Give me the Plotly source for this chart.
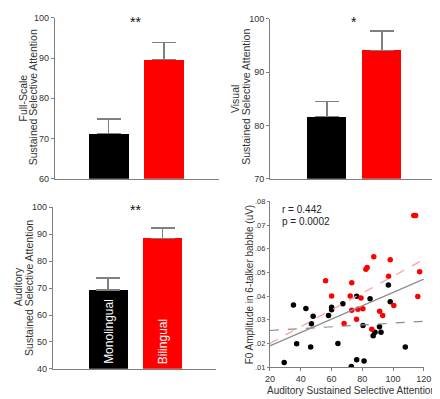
import plotly.graph_objects as go

# ---------------- data ----------------
groups = ["Monolingual", "Bilingual"]
bar_colors = ["#000000", "#ff0000"]

fullscale_mean = [71.2, 89.6]
fullscale_err = [3.7, 4.3]
visual_mean = [81.7, 94.1]
visual_err = [2.75, 3.6]
auditory_mean = [69.2, 88.5]
auditory_err = [4.5, 3.9]

mono_x = [29.3, 35.3, 37.4, 43.4, 46.5, 47.0, 48.1, 58.1, 60.1, 60.1, 64.2, 67.4, 72.9,
          76.4, 76.4, 80.5, 81.2, 85.1, 87.1, 88.3, 91.2, 92.2, 97.0, 98.2, 108.0]
mono_y = [0.0120, 0.0363, 0.0199, 0.0348, 0.0185, 0.0284, 0.0315, 0.0318, 0.0353, 0.0343,
          0.0200, 0.0368, 0.0103, 0.0400, 0.0131, 0.0276, 0.0126, 0.0389, 0.0233, 0.0248,
          0.0271, 0.0248, 0.0447, 0.0376, 0.0185]
bi_x = [56.2, 60.1, 68.2, 72.2, 73.2, 73.2, 76.3, 77.2, 79.2, 80.4, 82.4, 83.2, 86.2, 87.5,
        91.3, 93.3, 97.1, 98.2, 100.5, 113.5, 114.7, 116.1, 117.3]
bi_y = [0.0465, 0.0401, 0.0285, 0.0401, 0.0457, 0.0340, 0.0303, 0.0345, 0.0392, 0.0347,
        0.0514, 0.0521, 0.0260, 0.0566, 0.0336, 0.0318, 0.0484, 0.0554, 0.0361, 0.0741,
        0.0741, 0.0399, 0.0503]

fit_x = [20, 120]
fit_all_y = [0.0190, 0.0472]
fit_bi_y = [0.0200, 0.0555]
fit_mono_y = [0.0255, 0.0294]

scatter_xticks = [20, 40, 60, 80, 100, 120]
scatter_yticks = [0.01, 0.02, 0.03, 0.04, 0.05, 0.06, 0.07, 0.08]
scatter_yticktext = [".01", ".02", ".03", ".04", ".05", ".06", ".07", ".08"]

# ---------------- figure ----------------
W, H = 440, 399
FONT = "Liberation Sans, Arial, sans-serif"
AXC = "#7f7f7f"
TXC = "#333333"


def px(x):
    return x / W


def py(y):
    return 1 - y / H


fig = go.Figure()


def bar_panel(n, means, errs):
    fig.add_trace(go.Bar(
        x=[0, 1], y=means, width=0.72,
        marker=dict(color=bar_colors, line=dict(width=0)),
        error_y=dict(type="data", array=errs, arrayminus=[0, 0], symmetric=False,
                     color="#808080", thickness=1.5, width=12),
        xaxis="x" + n, yaxis="y" + n, showlegend=False, hoverinfo="skip"))


bar_panel("", fullscale_mean, fullscale_err)
bar_panel("2", visual_mean, visual_err)
bar_panel("3", auditory_mean, auditory_err)

# scatter
fig.add_trace(go.Scatter(x=mono_x, y=mono_y, mode="markers",
                         marker=dict(color="#000000", size=5.5),
                         xaxis="x4", yaxis="y4", showlegend=False))
fig.add_trace(go.Scatter(x=bi_x, y=bi_y, mode="markers",
                         marker=dict(color="#ff0000", size=5.5),
                         xaxis="x4", yaxis="y4", showlegend=False))
fig.add_trace(go.Scatter(x=fit_x, y=fit_mono_y, mode="lines",
                         line=dict(color="#8c8c8c", width=1.2, dash="dash"),
                         xaxis="x4", yaxis="y4", showlegend=False))
fig.add_trace(go.Scatter(x=fit_x, y=fit_bi_y, mode="lines",
                         line=dict(color="#ff9a9a", width=1.2, dash="dash"),
                         xaxis="x4", yaxis="y4", showlegend=False))
fig.add_trace(go.Scatter(x=fit_x, y=fit_all_y, mode="lines",
                         line=dict(color="#8c8c8c", width=1.2),
                         xaxis="x4", yaxis="y4", showlegend=False))

tickfont = dict(family=FONT, size=9, color=TXC)


def xbar(dom, rng):
    return dict(domain=dom, range=rng, showline=True, linecolor=AXC, linewidth=1,
                showticklabels=False, ticks="", showgrid=False, zeroline=False, fixedrange=True)


def ybar(dom, rng, tv, anchor):
    return dict(domain=dom, range=rng, tickvals=tv, showline=True, linecolor=AXC, linewidth=1,
                ticks="outside", ticklen=3, tickcolor=AXC, tickfont=tickfont,
                showgrid=False, zeroline=False, anchor=anchor, fixedrange=True)


layout = dict(
    width=W, height=H, margin=dict(l=0, r=0, t=0, b=0),
    paper_bgcolor="white", plot_bgcolor="white", bargap=0,
    xaxis=dict(xbar([px(43), px(212)], [-0.975, 1.99]), anchor="y"),
    yaxis=ybar([py(170), py(5)], [60, 100], [60, 70, 80, 90, 100], "x"),
    xaxis2=dict(xbar([px(265), px(435)], [-1.03, 1.97]), anchor="y2"),
    yaxis2=ybar([py(170), py(6)], [70, 100], [70, 80, 90, 100], "x2"),
    xaxis3=dict(xbar([px(41), px(209)], [-1.02, 1.98]), anchor="y3"),
    yaxis3=ybar([py(365), py(199.3)], [40, 100], [40, 50, 60, 70, 80, 90, 100], "x3"),
    xaxis4=dict(domain=[px(264.7), px(423.3)], range=[20, 120], tickvals=scatter_xticks,
                showline=True, linecolor=AXC, linewidth=1, ticks="outside", ticklen=3,
                tickcolor=AXC, tickfont=tickfont, showgrid=False, zeroline=False,
                anchor="y4", fixedrange=True),
    yaxis4=dict(domain=[py(363.3), py(193.3)], range=[0.01, 0.08], tickvals=scatter_yticks,
                ticktext=scatter_yticktext, showline=True, linecolor=AXC, linewidth=1,
                ticks="outside", ticklen=2, tickcolor=AXC,
                tickfont=dict(family=FONT, size=7.5, color=TXC),
                showgrid=False, zeroline=False, anchor="x4", fixedrange=True),
)
fig.update_layout(**layout)

ann = []


def txt(x, y, s, size=10.5, angle=0, color=TXC, xanchor="center"):
    ann.append(dict(x=px(x), y=py(y), xref="paper", yref="paper", text=s, showarrow=False,
                    textangle=angle, xanchor=xanchor, yanchor="middle",
                    font=dict(family=FONT, size=size, color=color)))


# axis titles
txt(10, 87, "Full-Scale", angle=-90)
txt(20, 86, "Sustained Selective Attention", angle=-90)
txt(229, 88, "Visual", angle=-90)
txt(240, 86, "Sustained Selective Attention", angle=-90)
txt(5.5, 281, "Auditory", angle=-90)
txt(16.5, 282, "Sustained Selective Attention", angle=-90)
txt(243.5, 278, "F0 Amplitude in 6-talker babble (uV)", size=10, angle=-90)
txt(349, 387.5, "Auditory Sustained Selective Attention", size=10)

# significance
txt(126, 9, "**", size=14, color="#111111")
txt(351, 9, "*", size=14, color="#111111")
txt(126, 202, "**", size=14, color="#111111")

# stats
txt(275, 202, "r = 0.442", size=10, xanchor="left", color="#222222")
txt(275, 213.5, "p = 0.0002", size=10, xanchor="left", color="#222222")

fig.update_layout(annotations=ann)

# bar labels (white, rotated, inside bars)
for xc, lab in zip([0, 1], groups):
    fig.add_annotation(x=xc, y=41, xref="x3", yref="y3", text=lab, showarrow=False,
                       textangle=-90, yanchor="bottom", xanchor="center",
                       font=dict(family=FONT, size=12, color="white"))

fig.write_html("out.html")
